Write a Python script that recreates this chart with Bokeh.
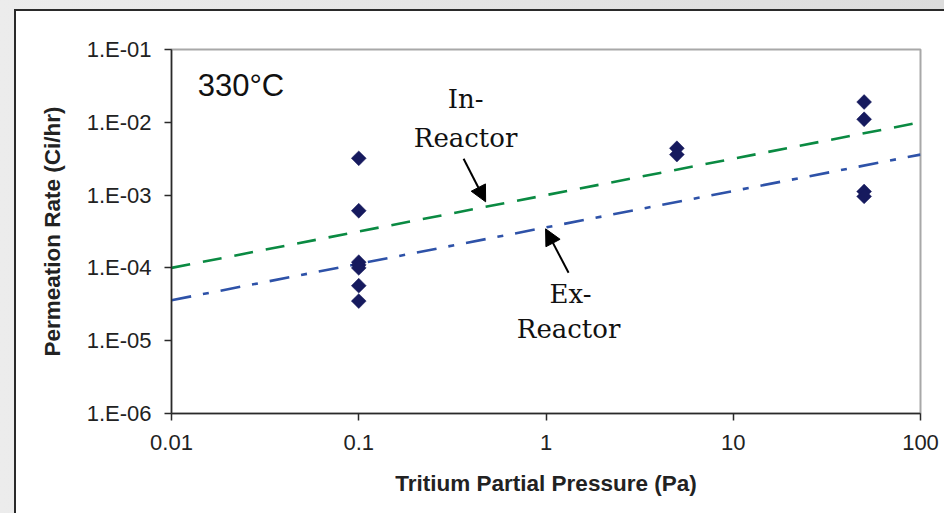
from bokeh.plotting import figure
from bokeh.models import FixedTicker, Arrow, NormalHead, Label, Range1d
from bokeh.embed import file_html
from bokeh.resources import INLINE
import math

# ---- data ----
x_ticks = [0.01, 0.1, 1, 10, 100]
x_tick_labels = ["0.01", "0.1", "1", "10", "100"]
y_ticks = [1e-6, 1e-5, 1e-4, 1e-3, 1e-2, 1e-1]
y_tick_labels = ["1.E-06", "1.E-05", "1.E-04", "1.E-03", "1.E-02", "1.E-01"]

meas_x = [0.1, 0.1, 0.1, 0.1, 0.1, 0.1, 0.1, 5, 5, 50, 50, 50, 50]
meas_y = [3.2e-3, 6.1e-4, 1.2e-4, 1.1e-4, 1.0e-4, 5.7e-5, 3.5e-5,
          4.4e-3, 3.6e-3, 1.9e-2, 1.1e-2, 1.12e-3, 9.6e-4]

in_reactor_x = [0.01, 100]
in_reactor_y = [1.0e-4, 1.0e-2]
ex_reactor_x = [0.01, 100]
ex_reactor_y = [3.6e-5, 3.6e-3]

FONT = "Liberation Sans"

p = figure(width=944, height=513, x_axis_type="log", y_axis_type="log",
           x_range=Range1d(0.01, 100), y_range=Range1d(1e-6, 1e-1),
           output_backend="svg", toolbar_location=None,
           min_border_left=171, min_border_right=24,
           min_border_top=49, min_border_bottom=100)

# page frame: gray surround, dark top/left border, white panel (CSS behind a transparent canvas)
p.border_fill_color = None
p.styles = {
    "background": ("linear-gradient(#ffffff, #ffffff) 16px 11px / 100% 100% no-repeat, "
                   "linear-gradient(#2a2a2a, #2a2a2a) 14px 9px / 100% 100% no-repeat, "
                   "linear-gradient(90deg, #ececec, #dcdcdc)")
}
p.background_fill_color = "white"
p.outline_line_color = "#a8a8a8"
p.outline_line_width = 2
p.grid.visible = False

# axes
for ax in (p.xaxis[0], p.yaxis[0]):
    ax.axis_line_color = "#2a2a2a"
    ax.axis_line_width = 1.5
    ax.major_tick_line_color = "#2a2a2a"
    ax.major_tick_line_width = 1.5
    ax.major_tick_out = 7
    ax.major_tick_in = 0
    ax.minor_tick_out = 0
    ax.minor_tick_in = 0
    ax.major_label_text_font = FONT
    ax.major_label_text_font_size = "22px"
    ax.major_label_text_color = "#222222"
    ax.axis_label_text_font = FONT
    ax.axis_label_text_font_style = "bold"
    ax.axis_label_text_font_size = "22.5px"
    ax.axis_label_text_color = "#222222"

p.xaxis[0].ticker = FixedTicker(ticks=x_ticks, minor_ticks=[])
p.yaxis[0].ticker = FixedTicker(ticks=y_ticks, minor_ticks=[])
p.xaxis[0].major_label_overrides = {t: l for t, l in zip(x_ticks, x_tick_labels)}
p.yaxis[0].major_label_overrides = {t: l for t, l in zip(y_ticks, y_tick_labels)}
p.xaxis[0].axis_label = "Tritium Partial Pressure (Pa)"
p.yaxis[0].axis_label = "Permeation Rate (Ci/hr)"
p.xaxis[0].major_label_standoff = 14
p.yaxis[0].major_label_standoff = 13
p.xaxis[0].axis_label_standoff = 18
p.yaxis[0].axis_label_standoff = 19

# lines
p.line(in_reactor_x, in_reactor_y, line_color="#0a8a42", line_width=2.6,
       line_dash="19 13")
p.line(ex_reactor_x, ex_reactor_y, line_color="#2e52a8", line_width=2.6,
       line_dash="20 12 6 12")

# measured points (diamonds)
p.scatter(meas_x, meas_y, marker="square", angle=math.pi / 4, size=10.5,
          fill_color="#161a5e", line_color="#161a5e", line_width=0.5)

# annotations
p.add_layout(Label(x=0.0138, y=0.0317, text="330°C", text_font=FONT,
                   text_font_size="31px", text_color="#111111",
                   text_align="left", text_baseline="alphabetic"))
SERIF = "DejaVu Serif"
for tx, ty, tt in [(0.372, 0.0210, "In-"), (0.372, 0.00613, "Reactor"),
                   (1.352, 4.40e-5, "Ex-"), (1.32, 1.45e-5, "Reactor")]:
    p.add_layout(Label(x=tx, y=ty, text=tt, text_font=SERIF,
                       text_font_size="26px", text_color="#111111",
                       text_align="center", text_baseline="alphabetic"))

p.add_layout(Arrow(end=NormalHead(size=16, fill_color="black", line_color="black"),
                   x_start=0.363, y_start=3.15e-3, x_end=0.476, y_end=8.09e-4,
                   line_color="black", line_width=2))
p.add_layout(Arrow(end=NormalHead(size=16, fill_color="black", line_color="black"),
                   x_start=1.32, y_start=8.57e-5, x_end=0.995, y_end=3.44e-4,
                   line_color="black", line_width=2))

open("out.html", "w").write(file_html(p, INLINE))
